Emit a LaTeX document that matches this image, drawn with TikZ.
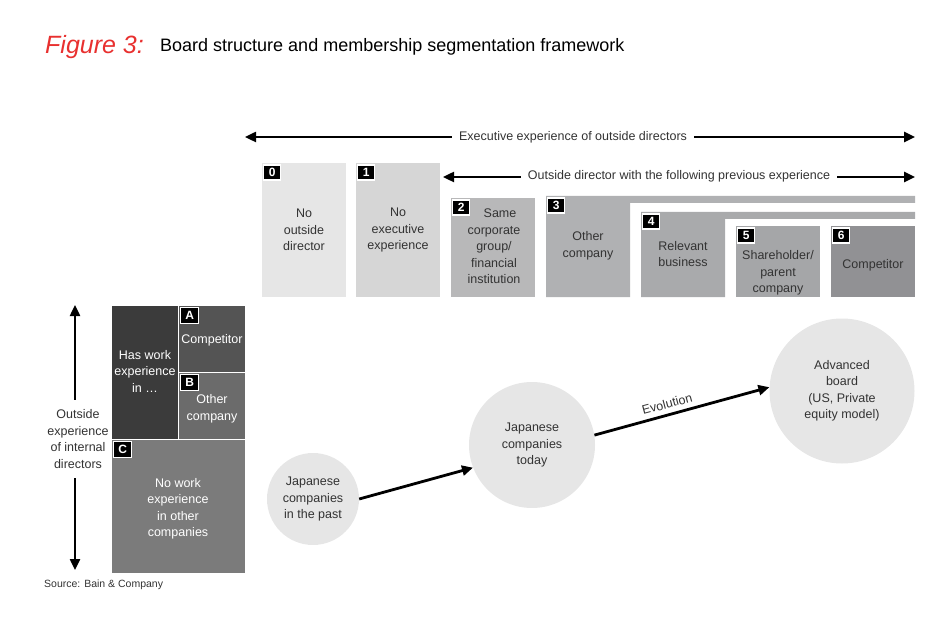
\documentclass[tikz,border=0pt]{standalone}
\usepackage{fontspec}
\setmainfont{Liberation Sans}
\usetikzlibrary{arrows.meta}
\definecolor{cA}{HTML}{E6E6E6}
\definecolor{cB}{HTML}{D6D6D6}
\definecolor{cC}{HTML}{B8B8B9}
\definecolor{cD}{HTML}{B0B1B3}
\definecolor{cE}{HTML}{A9AAAC}
\definecolor{cF}{HTML}{A5A6A8}
\definecolor{cG}{HTML}{919194}
\definecolor{dk}{HTML}{3B3B3B}
\definecolor{dA}{HTML}{545454}
\definecolor{dB}{HTML}{6B6B6B}
\definecolor{dC}{HTML}{7B7B7B}
\definecolor{txt}{HTML}{333333}
\definecolor{figred}{HTML}{E8302F}
\tikzset{
  x=1pt, y=-1pt,
  lbl/.style={text=txt, align=center, font=\fontsize{12.5}{16.5}\selectfont, inner sep=0pt},
  wlbl/.style={text=white, align=center, font=\fontsize{12.5}{16.5}\selectfont, inner sep=0pt},
  tag/.style={fill=black, draw=white, line width=1.3pt, text=white, font=\bfseries\fontsize{12}{12}\selectfont, minimum width=17pt, minimum height=15pt, inner sep=0pt, anchor=north west},
  bigtag/.style={tag, minimum width=18pt, minimum height=16pt},
  dbl/.style={line width=2.4pt, {Triangle[length=11pt,width=10pt]}-{Triangle[length=11pt,width=10pt]}},
  conn/.style={line width=2.8pt, -{Triangle[length=11pt,width=10pt]}},
  gap/.style={fill=white, inner xsep=7pt, inner ysep=2pt, text=txt, font=\fontsize{12.5}{16.5}\selectfont, align=center},
  circ/.style={circle, fill=cA, inner sep=0pt}
}
\begin{document}
\begin{tikzpicture}
\useasboundingbox (0,0) rectangle (950,636);
% title
\node[anchor=base west, text=figred, font=\itshape\fontsize{25}{25}\selectfont, inner sep=0pt] (fig) at (45,54) {Figure 3:};
\node[anchor=base west, text=black, font=\fontsize{18}{18}\selectfont, inner sep=0pt] (title) at (160,52) {Board structure and membership segmentation framework};
% top arrow
\coordinate (ta) at (245,137);
\coordinate (tb) at (915,137);
\draw[dbl] (ta) -- (tb);
\node[gap] (exec) at (573,137) {Executive experience of outside directors};
% second arrow
\coordinate (sa) at (443,177);
\coordinate (sb) at (915,177);
\draw[dbl] (sa) -- (sb);
\node[gap] (outdir) at (679,176) {Outside director with the following previous experience};
% boxes
\fill[cA] (262,163) rectangle (346,297);
\fill[cB] (356,163) rectangle (440,297);
\fill[cC] (451,198) rectangle (535,297);
\fill[cD] (546,196) -- (915,196) -- (915,203) -- (630,203) -- (630,297) -- (546,297) -- cycle;
\fill[cE] (641,212) -- (915,212) -- (915,219) -- (725,219) -- (725,297) -- (641,297) -- cycle;
\fill[cF] (736,226) rectangle (820,297);
\fill[cG] (831,226) rectangle (915,297);
\node[tag] (t0) at (263,164.5) {0};
\node[tag] (t1) at (357,164.5) {1};
\node[tag] (t2) at (452,199.5) {2};
\node[tag] (t3) at (547,197.5) {3};
\node[tag] (t4) at (642,213.5) {4};
\node[tag] (t5) at (737,227.5) {5};
\node[tag] (t6) at (832,227.5) {6};
\node[lbl] (l0) at (304,230) {No\\outside\\director};
\node[lbl] (l1) at (398,230) {No\\executive\\experience};
\node[lbl] (l2) at (494,246.5) {\hspace*{12pt}Same\\corporate\\group/\\financial\\institution};
\node[lbl] (l3) at (588,246) {Other\\company};
\node[lbl] (l4) at (683,254) {Relevant\\business};
\node[lbl] (l5) at (778,273) {Shareholder/\\parent\\company};
\node[lbl] (l6) at (873,265) {Competitor};
% left boxes
\fill[dk] (112,306) rectangle (178,439);
\fill[dA] (179,306) rectangle (245,372);
\fill[dB] (179,373) rectangle (245,439);
\fill[dC] (112,440) rectangle (245,573);
\node[bigtag] (tA) at (180,307) {A};
\node[bigtag] (tB) at (180,374) {B};
\node[bigtag] (tC) at (113,441) {C};
\node[wlbl] (lw) at (145,371) {Has work\\experience\\in \dots};
\node[wlbl] (lA) at (212,340) {Competitor};
\node[wlbl] (lB) at (212,409) {Other\\company};
\node[wlbl] (lC) at (178,509) {No work\\experience\\in other\\companies};
% left vertical arrow
\coordinate (va) at (75,305);
\coordinate (vb) at (75,570);
\draw[dbl] (va) -- (vb);
\node[gap, inner xsep=2pt, inner ysep=10pt] (vl) at (78,439) {Outside\\experience\\of internal\\directors};
% source
\node[anchor=base west, text=txt, font=\fontsize{10.5}{10.5}\selectfont, inner sep=0pt] (src) at (44,587) {Source: Bain \& Company};
% circles
\node[circ, minimum size=92pt] (c1) at (313,499) {};
\node[circ, minimum size=126pt] (c2) at (532,445) {};
\node[circ, minimum size=145pt] (c3) at (842,391) {};
\node[lbl] (lc1) at (c1.center) {Japanese\\companies\\in the past};
\node[lbl] (lc2) at (c2.center) {Japanese\\companies\\today};
\node[lbl] (lc3) at (c3.center) {Advanced\\board\\(US, Private\\equity model)};
\draw[conn] (c1.0) -- (c2.201);
\draw[conn] (c2.9) -- (c3.177);
\node[lbl, rotate=15] (evo) at (667,404) {Evolution};
\end{tikzpicture}
\end{document}
